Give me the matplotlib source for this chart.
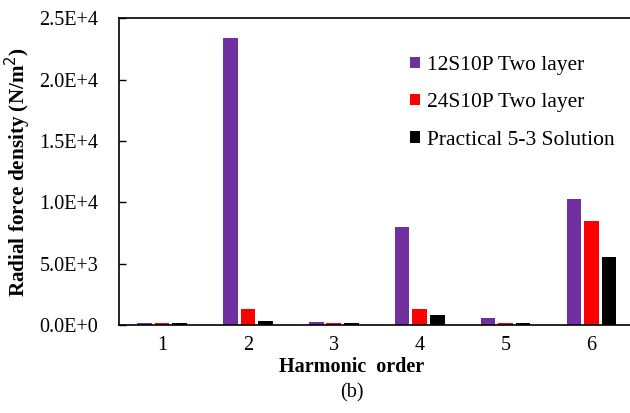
import numpy as np
import matplotlib
matplotlib.use('Agg')
import matplotlib.pyplot as plt
from matplotlib.ticker import FixedLocator, FixedFormatter

plt.rcParams['font.family'] = ['Liberation Serif', 'DejaVu Serif']

harmonics = [1, 2, 3, 4, 5, 6]
two_layer_12s10p = [150, 23400, 250, 7950, 570, 10300]
two_layer_24s10p = [140, 1300, 140, 1300, 140, 8470]
practical_5_3 = [140, 350, 140, 790, 140, 5550]
series_names = ['12S10P Two layer', '24S10P Two layer', 'Practical 5-3 Solution']
y_ticks = [0, 5000, 10000, 15000, 20000, 25000]
y_tick_labels = ['0.0E+0', '5.0E+3', '1.0E+4', '1.5E+4', '2.0E+4', '2.5E+4']

colors = ['#7030A0', '#FF0000', '#000000']

fig = plt.figure(figsize=(6.3, 4.13), dpi=100)
ax = fig.add_axes([0.189, 0.213, 0.818, 0.743])

x = np.array(harmonics)
w = 0.17
step = 0.204
for i, (vals, c, name) in enumerate(zip([two_layer_12s10p, two_layer_24s10p, practical_5_3], colors, series_names)):
    ax.bar(x + (i - 1) * step, vals, width=w, color=c, label=name)

ax.set_xlim(0.5, 6.5)
ax.set_ylim(0, 25000)
ax.set_xticks(harmonics)
ax.set_xticklabels([str(h) for h in harmonics], fontsize=14.5)
ax.yaxis.set_major_locator(FixedLocator(y_ticks))
ax.yaxis.set_major_formatter(FixedFormatter(y_tick_labels))
ax.tick_params(axis='y', direction='in', length=5, width=1, pad=15, labelsize=14.5)
ax.tick_params(axis='x', length=0, pad=8)

for s in ['left', 'bottom', 'top']:
    ax.spines[s].set_linewidth(1.2)
ax.spines['right'].set_visible(False)

ax.set_ylabel('Radial force density (N/m$^2$)', fontsize=15.2, fontweight='bold')
ax.yaxis.set_label_coords(-0.167, 0.5)
fig.text(352 / 630, 1 - 367 / 413, 'Harmonic  order', fontsize=14.5, fontweight='bold',
         ha='center', va='center')
fig.text(352 / 630, 1 - 393 / 413, '(b)', fontsize=14.5, ha='center', va='center')

ax.legend(loc='upper left', bbox_to_anchor=(410 / 630, 1 - 56 / 413), bbox_transform=fig.transFigure,
          frameon=False, fontsize=15.5, handlelength=0.45, handleheight=0.45, handletextpad=0.35,
          labelspacing=0.85, borderaxespad=0, borderpad=0)

fig.savefig('out.png', dpi=100)
